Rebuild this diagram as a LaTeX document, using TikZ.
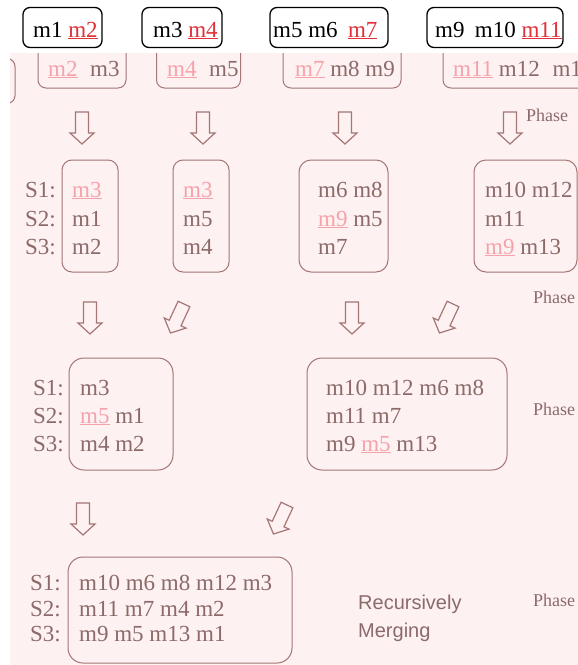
\documentclass[tikz,border=0pt]{standalone}
\usepackage{fontspec}
\setmainfont{Liberation Serif}
\newfontfamily\notesans{Liberation Sans}

\definecolor{sheet}{HTML}{FEF1F1}
\definecolor{ink}{HTML}{8C6A6A}
\definecolor{inkline}{HTML}{A47676}
\definecolor{softred}{HTML}{F5A3AB}
\definecolor{topred}{HTML}{E0303A}

% highlighted message ids
\newcommand\hotid[1]{\textcolor{topred}{\underline{#1}}}
\newcommand\fadeid[1]{\textcolor{softred}{\underline{#1}}}

\tikzset{
  topbox/.style={draw=black, line width=1.3pt, rounded corners=7pt, fill=white, inner sep=0pt},
  setbox/.style={draw=inkline, line width=1pt, rounded corners=#1, inner sep=0pt},
  setbox/.default=10pt,
  toptext/.style={anchor=base west, inner sep=0pt, text=black, font=\fontsize{23}{26}\selectfont},
  settext/.style={anchor=base west, inner sep=0pt, text=ink, font=\fontsize{23}{26}\selectfont},
  phasetext/.style={anchor=base west, inner sep=0pt, text=ink, font=\fontsize{18}{20}\selectfont},
  notetext/.style={anchor=base west, inner sep=0pt, text=ink, font=\notesans\fontsize{20}{22}\selectfont},
  arrowline/.style={draw=inkline, line width=1.2pt, line join=miter},
  dnarrow/.pic={\draw[arrowline] (-6.5,0) -- (6.5,0) -- (6.5,21) -- (12,21) -- (0,32)
                 -- (-12,21) -- (-6.5,21) -- cycle;}
}

\begin{document}
\begin{tikzpicture}[x=1pt, y=-1pt]
\useasboundingbox (0,0) rectangle (578,665);
\fill[white] (0,0) rectangle (578,665);

% ---- top row: current message pairs ----
\node[topbox, minimum width=79, minimum height=40] (t1) at (62.5,27.5) {};
\node[topbox, minimum width=80, minimum height=40] (t2) at (182,27.5) {};
\node[topbox, minimum width=118, minimum height=40] (t3) at (329,27.5) {};
\node[topbox, minimum width=136, minimum height=40] (t4) at (495,27.5) {};
\node[toptext] (t1t) at (33,37) {m1 \hotid{m2}};
\node[toptext] (t2t) at (153,37) {m3 \hotid{m4}};
\node[toptext] (t3t) at (273,37) {m5 m6\hspace{0.45em}\hotid{m7}};
\node[toptext] (t4t) at (435,37) {m9\hspace{0.45em}m10 \hotid{m11}};

% ---- shaded sheet ----
\fill[sheet] (10,53) rectangle (578,665);

\begin{scope}
\clip (10,53) rectangle (578,665);
\node[setbox=8pt, minimum width=60, minimum height=45] (p0) at (-15,81) {};
\node[setbox=8pt, minimum width=88, minimum height=44] (p1) at (82,66) {};
\node[setbox=8pt, minimum width=84, minimum height=44] (p2) at (198.5,66) {};
\node[setbox=8pt, minimum width=118, minimum height=44] (p3) at (342,66) {};
\node[setbox=8pt, minimum width=170, minimum height=44] (p4) at (528,66) {};
\end{scope}
\node[settext] (p1t) at (48,76) {\fadeid{m2}\hspace{0.55em}m3};
\node[settext] (p2t) at (167,76) {\fadeid{m4}\hspace{0.55em}m5};
\node[settext] (p3t) at (295,76) {\fadeid{m7} m8 m9};
\node[settext] (p4t) at (453,76) {\fadeid{m11} m12\hspace{0.55em}m13};

% ---- phase 1 arrows ----
\pic at (82,112) {dnarrow};
\pic at (203,112) {dnarrow};
\pic at (345,112) {dnarrow};
\pic at (510,112) {dnarrow};
\node[phasetext] (ph1) at (526,121) {Phase};

% ---- phase 1 results ----
\node[settext] (l1a) at (25,197) {S1:};
\node[settext] (l1b) at (25,226) {S2:};
\node[settext] (l1c) at (25,254) {S3:};

\node[setbox=10pt, minimum width=56, minimum height=112] (a1) at (90,216) {};
\node[settext] (a1a) at (72,197) {\fadeid{m3}};
\node[settext] (a1b) at (72,226) {m1};
\node[settext] (a1c) at (72,254) {m2};

\node[setbox=10pt, minimum width=56, minimum height=112] (a2) at (201,216) {};
\node[settext] (a2a) at (183,197) {\fadeid{m3}};
\node[settext] (a2b) at (183,226) {m5};
\node[settext] (a2c) at (183,254) {m4};

\node[setbox=12pt, minimum width=89, minimum height=112] (a3) at (343.5,216) {};
\node[settext] (a3a) at (318,197) {m6 m8};
\node[settext] (a3b) at (318,226) {\fadeid{m9} m5};
\node[settext] (a3c) at (318,254) {m7};

\node[setbox=12pt, minimum width=103, minimum height=112] (a4) at (525.5,216) {};
\node[settext] (a4a) at (485,197) {m10 m12};
\node[settext] (a4b) at (485,226) {m11};
\node[settext] (a4c) at (485,254) {\fadeid{m9} m13};

\node[phasetext] (ph2) at (533,303) {Phase};

% ---- phase 2 arrows ----
\pic at (90,302) {dnarrow};
\pic[rotate=-25] at (184,304) {dnarrow};
\pic at (352,302) {dnarrow};
\pic[rotate=-25] at (453,304) {dnarrow};

% ---- phase 2 results ----
\node[settext] (l2a) at (33,395) {S1:};
\node[settext] (l2b) at (33,423) {S2:};
\node[settext] (l2c) at (33,451) {S3:};

\node[setbox=15pt, minimum width=104, minimum height=112] (b1) at (121,414) {};
\node[settext] (b1a) at (80,395) {m3};
\node[settext] (b1b) at (80,423) {\fadeid{m5} m1};
\node[settext] (b1c) at (80,451) {m4 m2};

\node[setbox=15pt, minimum width=200, minimum height=112] (b2) at (407,414) {};
\node[settext] (b2a) at (326,395) {m10 m12 m6 m8};
\node[settext] (b2b) at (326,423) {m11 m7};
\node[settext] (b2c) at (326,451) {m9 \fadeid{m5} m13};

\node[phasetext] (ph3) at (533,415) {Phase};

% ---- phase 3 arrows ----
\pic at (83,503) {dnarrow};
\pic[rotate=-25] at (287,505) {dnarrow};

% ---- merged result ----
\node[settext] (l3a) at (30,590) {S1:};
\node[settext] (l3b) at (30,616) {S2:};
\node[settext] (l3c) at (30,641) {S3:};

\node[setbox=15pt, minimum width=224, minimum height=106] (c1) at (180,610) {};
\node[settext] (c1a) at (79,590) {m10 m6 m8 m12 m3};
\node[settext] (c1b) at (79,616) {m11 m7 m4 m2};
\node[settext] (c1c) at (79,641) {m9 m5 m13 m1};

\node[notetext] (n1) at (358,609) {Recursively};
\node[notetext] (n2) at (358,637) {Merging};
\node[phasetext] (ph4) at (533,606) {Phase};
\end{tikzpicture}
\end{document}
